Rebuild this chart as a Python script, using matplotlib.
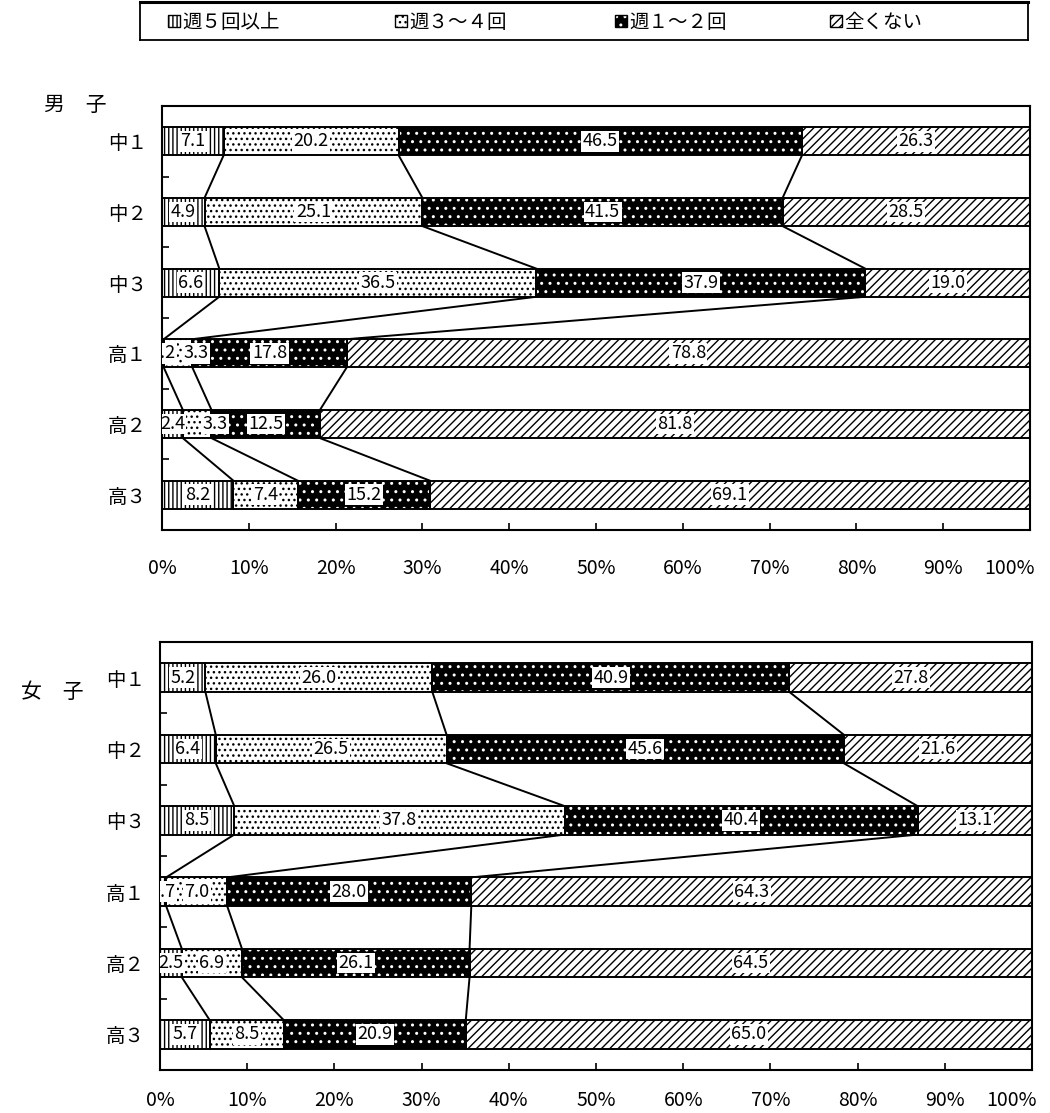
"""
Recreate stacked 100% bar chart (男子 / 女子) with series connector lines
"""

import matplotlib
matplotlib.use('Agg')
import matplotlib.pyplot as plt
from matplotlib.patches import Rectangle
from matplotlib.transforms import ScaledTranslation
import numpy as np

plt.rcParams['font.family'] = ['Noto Sans CJK JP', 'DejaVu Sans']
plt.rcParams['hatch.linewidth'] = 1.0

# ---- data ----
categories = ['中１', '中２', '中３', '高１', '高２', '高３']
series_names = ['週５回以上', '週３〜４回', '週１〜２回', '全くない']

boys_5plus = [7.1, 4.9, 6.6, 0.2, 2.4, 8.2]
boys_3to4 = [20.2, 25.1, 36.5, 3.3, 3.3, 7.4]
boys_1to2 = [46.5, 41.5, 37.9, 17.8, 12.5, 15.2]
boys_none = [26.3, 28.5, 19.0, 78.8, 81.8, 69.1]

girls_5plus = [5.2, 6.4, 8.5, 0.7, 2.5, 5.7]
girls_3to4 = [26.0, 26.5, 37.8, 7.0, 6.9, 8.5]
girls_1to2 = [40.9, 45.6, 40.4, 28.0, 26.1, 20.9]
girls_none = [27.8, 21.6, 13.1, 64.3, 64.5, 65.0]

x_ticks = [0, 10, 20, 30, 40, 50, 60, 70, 80, 90, 100]
x_tick_labels = ['0%', '10%', '20%', '30%', '40%', '50%',
                 '60%', '70%', '80%', '90%', '100%']

# style per series: (facecolor, hatchcolor, hatch)
styles = [
    ('white', 'black', '||||'),
    ('white', 'black', '...'),
    ('black', 'white', '..'),
    ('white', 'black', '////'),
]

BAR_H = 0.4


def draw_panel(ax, series, xlabel_pad):
    vals = np.array(series, dtype=float)          # shape (4, 6)
    vals = vals / vals.sum(axis=0) * 100.0        # 100% stacked like Excel
    y = np.arange(len(categories))
    left = np.zeros(len(categories))

    for k, (fc, hc, hatch) in enumerate(styles):
        # fill + hatch (hatch colour follows edgecolor)
        ax.barh(y, vals[k], left=left, height=BAR_H, color=fc,
                edgecolor=hc, hatch=hatch, linewidth=0, zorder=2)
        # outline
        ax.barh(y, vals[k], left=left, height=BAR_H, fill=False,
                edgecolor='black', linewidth=1.4, zorder=3)
        for i in range(len(categories)):
            trans = ax.transData
            # narrow middle segments: label nudged right like the original
            if k > 0 and vals[k][i] < 4:
                trans = trans + ScaledTranslation(13 / 72, 0, ax.figure.dpi_scale_trans)
            ax.text(left[i] + vals[k][i] / 2, y[i], f'{series[k][i]:.1f}',
                    ha='center', va='center', fontsize=13, zorder=5,
                    clip_on=True, transform=trans,
                    bbox=dict(boxstyle='square,pad=0.08', fc='white',
                              ec='none'))
        left = left + vals[k]

    # series lines between consecutive bars
    cum = np.cumsum(vals, axis=0)
    for k in range(3):
        for i in range(len(categories) - 1):
            ax.plot([cum[k][i], cum[k][i + 1]],
                    [y[i] + BAR_H / 2, y[i + 1] - BAR_H / 2],
                    color='black', linewidth=1.4, zorder=1)

    ax.set_xlim(0, 100)
    ax.set_ylim(len(categories) - 0.5, -0.5)
    ax.set_xticks(x_ticks)
    ax.set_xticklabels(x_tick_labels, fontsize=14)
    ax.set_yticks(y)
    ax.set_yticklabels(categories, fontsize=14)
    ax.set_yticks(y[:-1] + 0.5, minor=True)
    ax.tick_params(axis='x', direction='in', length=5, width=1.2, pad=xlabel_pad)
    ax.tick_params(axis='y', which='major', length=0, pad=11)
    ax.tick_params(axis='y', which='minor', direction='in', length=5, width=1.2)
    for sp in ax.spines.values():
        sp.set_linewidth(1.5)

    # the last tick label sits a little inside, as in the original
    labels = ax.get_xticklabels()
    shift = ScaledTranslation(-15 / 72, 0, ax.figure.dpi_scale_trans)
    labels[-1].set_transform(labels[-1].get_transform() + shift)


fig = plt.figure(figsize=(10.5, 11.13), dpi=100)

ax_boys = fig.add_axes([162 / 1050, 1 - 530 / 1113, 868 / 1050, 424 / 1113])
draw_panel(ax_boys, [boys_5plus, boys_3to4, boys_1to2, boys_none], 20.5)

ax_girls = fig.add_axes([160 / 1050, 1 - 1070 / 1113, 872 / 1050, 428 / 1113])
draw_panel(ax_girls, [girls_5plus, girls_3to4, girls_1to2, girls_none], 14.5)

# panel labels
fig.text(75 / 1050, 1 - 105 / 1113, '男　子', ha='center', va='center', fontsize=15)
fig.text(52 / 1050, 1 - 692 / 1113, '女　子', ha='center', va='center', fontsize=15)

# legend box across the top
lax = fig.add_axes([140 / 1050, 1 - 40 / 1113, 888 / 1050, 38 / 1113])
lax.set_xlim(140, 1028)
lax.set_ylim(40, 2)
lax.set_xticks([])
lax.set_yticks([])
for sp in lax.spines.values():
    sp.set_linewidth(1.3)
lax.spines['top'].set_linewidth(2.2)

key_x = [168, 395, 615, 830]
for (fc, hc, hatch), name, kx in zip(styles, series_names, key_x):
    lax.add_patch(Rectangle((kx, 15), 12, 12, facecolor=fc, edgecolor=hc,
                            hatch=hatch, linewidth=0))
    lax.add_patch(Rectangle((kx, 15), 12, 12, fill=False, edgecolor='black',
                            linewidth=1.0))
    lax.text(kx + 14, 22, name, ha='left', va='center', fontsize=14)

plt.savefig('out.png', dpi=100)
plt.close()
